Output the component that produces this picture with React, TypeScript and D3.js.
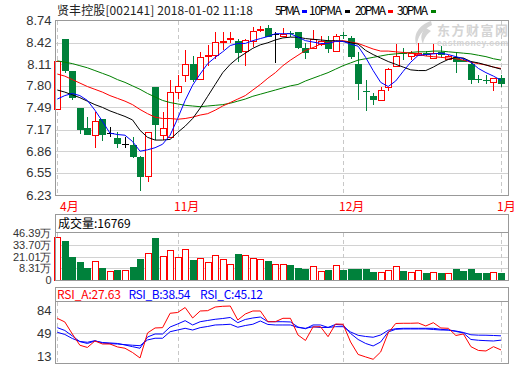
import React from 'react';
import * as d3 from 'd3';

// daily candles, 60 sessions
const opens = [7.46, 8.47, 8.01, 7.48, 7.19, 7.10, 7.32, 7.12, 7.05, 6.97, 6.95, 6.78, 6.50, 7.79, 7.10, 7.07, 7.71, 7.95, 8.12, 7.90,
  8.23, 8.25, 8.44, 8.48, 8.45, 8.30, 8.44, 8.60, 8.63, 8.55, 8.51, 8.56, 8.57, 8.35, 8.35, 8.40, 8.44, 8.30, 8.53, 8.49,
  8.12, 7.72, 7.65, 7.60, 7.78, 8.09, 8.27, 8.23, 8.24, 8.27, 8.20, 8.29, 8.18, 8.22, 8.17, 8.12, 7.90, 7.89, 7.86, 7.91];
const highs = [8.16, 8.47, 8.01, 7.48, 7.35, 7.43, 7.32, 7.21, 7.13, 7.07, 7.06, 6.79, 7.14, 7.79, 7.43, 7.89, 7.96, 8.31, 8.23, 8.28,
  8.39, 8.58, 8.58, 8.58, 8.47, 8.48, 8.64, 8.66, 8.67, 8.57, 8.63, 8.59, 8.58, 8.41, 8.60, 8.51, 8.51, 8.55, 8.57, 8.51,
  8.29, 7.88, 7.69, 7.79, 8.05, 8.40, 8.34, 8.30, 8.42, 8.30, 8.40, 8.38, 8.25, 8.29, 8.20, 8.15, 7.96, 7.95, 7.91, 7.95];
const lows = [7.46, 7.99, 7.60, 7.11, 7.10, 6.91, 7.00, 7.07, 6.90, 6.91, 6.76, 6.29, 6.41, 7.02, 7.02, 7.07, 7.61, 7.85, 7.86, 7.90,
  8.09, 8.19, 8.31, 8.41, 8.15, 8.08, 8.36, 8.58, 8.50, 8.13, 8.51, 8.50, 8.33, 8.19, 8.35, 8.38, 8.27, 8.30, 8.47, 8.18,
  7.60, 7.44, 7.53, 7.60, 7.73, 8.09, 8.17, 8.17, 8.24, 8.23, 8.20, 8.20, 8.18, 7.98, 8.14, 7.83, 7.84, 7.82, 7.72, 7.79];
const closes = [8.16, 8.01, 7.62, 7.17, 7.10, 7.30, 7.10, 7.12, 6.96, 6.97, 6.78, 6.49, 7.14, 7.23, 7.20, 7.71, 7.80, 8.11, 7.88, 8.22,
  8.25, 8.43, 8.45, 8.49, 8.27, 8.46, 8.59, 8.62, 8.50, 8.55, 8.55, 8.55, 8.35, 8.27, 8.47, 8.44, 8.33, 8.52, 8.51, 8.22,
  7.83, 7.71, 7.60, 7.74, 8.04, 8.23, 8.26, 8.27, 8.27, 8.24, 8.27, 8.24, 8.23, 8.15, 8.15, 7.88, 7.89, 7.88, 7.91, 7.83];
// volume, 万
const volumes = [41.2, 37.7, 21.9, 17.4, 11.6, 18.0, 11.6, 8.4, 9.7, 9.4, 12.6, 20.3, 25.8, 40.6, 22.9, 28.7, 21.9, 29.7, 19.3, 21.0,
  17.1, 23.9, 20.0, 15.2, 25.1, 23.9, 21.3, 20.0, 18.4, 15.5, 15.5, 14.5, 11.6, 10.6, 13.5, 8.7, 9.7, 14.5, 9.7, 10.6,
  10.6, 10.6, 7.7, 7.7, 9.7, 13.5, 8.7, 7.7, 9.4, 6.8, 7.7, 6.8, 6.8, 10.6, 8.7, 10.6, 6.8, 6.8, 7.7, 6.3];
const ma5 = [7.61, 7.66, 7.69, 7.66, 7.59, 7.45, 7.29, 7.12, 7.10, 7.09, 7.00, 6.86, 6.88, 6.91, 6.96, 7.09, 7.33, 7.59, 7.81, 7.97,
  8.12, 8.21, 8.29, 8.38, 8.41, 8.41, 8.45, 8.48, 8.51, 8.55, 8.55, 8.55, 8.50, 8.45, 8.43, 8.41, 8.41, 8.44, 8.44, 8.40,
  8.37, 8.21, 8.02, 7.85, 7.79, 7.87, 8.01, 8.14, 8.24, 8.25, 8.26, 8.27, 8.25, 8.22, 8.19, 8.14, 8.05, 7.99, 7.94, 7.88];
const ma10 = [7.74, 7.71, 7.67, 7.63, 7.58, 7.53, 7.49, 7.44, 7.40, 7.36, 7.31, 7.16, 7.06, 7.02, 7.02, 7.03, 7.13, 7.22, 7.33, 7.48,
  7.65, 7.82, 7.99, 8.11, 8.20, 8.27, 8.34, 8.39, 8.42, 8.46, 8.49, 8.50, 8.50, 8.48, 8.47, 8.46, 8.45, 8.45, 8.44, 8.42,
  8.40, 8.31, 8.25, 8.20, 8.15, 8.11, 8.07, 8.03, 8.02, 8.02, 8.07, 8.13, 8.18, 8.21, 8.20, 8.15, 8.13, 8.10, 8.07, 8.04];
const ma20 = [7.97, 7.94, 7.89, 7.84, 7.79, 7.75, 7.71, 7.66, 7.62, 7.58, 7.53, 7.46, 7.40, 7.35, 7.33, 7.33, 7.32, 7.33, 7.35, 7.38,
  7.40, 7.45, 7.51, 7.56, 7.61, 7.66, 7.74, 7.82, 7.91, 7.99, 8.09, 8.17, 8.24, 8.31, 8.35, 8.40, 8.42, 8.44, 8.45, 8.43,
  8.41, 8.37, 8.33, 8.30, 8.30, 8.29, 8.28, 8.27, 8.25, 8.23, 8.22, 8.21, 8.20, 8.19, 8.17, 8.14, 8.12, 8.10, 8.07, 8.05];
const ma30 = [8.16, 8.14, 8.12, 8.09, 8.06, 8.02, 7.98, 7.94, 7.89, 7.85, 7.80, 7.75, 7.69, 7.64, 7.59, 7.56, 7.54, 7.52, 7.51, 7.50,
  7.51, 7.52, 7.53, 7.55, 7.58, 7.61, 7.65, 7.68, 7.71, 7.74, 7.77, 7.80, 7.82, 7.87, 7.91, 7.95, 7.99, 8.04, 8.09, 8.13,
  8.17, 8.19, 8.21, 8.23, 8.25, 8.26, 8.27, 8.28, 8.29, 8.29, 8.30, 8.30, 8.29, 8.28, 8.27, 8.26, 8.24, 8.22, 8.19, 8.17];
const rsiA = [71.9, 66.3, 47.9, 30.7, 27.3, 37.2, 32.6, 32.6, 28.1, 26.1, 19.6, 11.2, 49.5, 57.1, 57.6, 79.6, 80.8, 88.4, 72.4, 83.1,
  83.6, 89.2, 90.3, 90.7, 69.3, 78.5, 83.1, 83.1, 66.7, 66.7, 71.9, 71.9, 46.4, 38.0, 58.6, 59.1, 43.8, 63.2, 62.8, 35.7,
  16.6, 12.8, 9.2, 20.4, 49.5, 64.0, 64.3, 64.3, 64.7, 60.2, 65.2, 57.1, 56.6, 45.6, 47.9, 28.5, 22.7, 21.9, 28.5, 23.5];
const rsiB = [57.6, 53.3, 44.9, 36.2, 33.4, 37.2, 34.9, 34.2, 33.4, 31.1, 28.5, 26.1, 43.3, 47.9, 47.9, 58.6, 63.2, 68.3, 61.7, 66.7,
  68.6, 70.4, 71.6, 73.2, 65.2, 70.1, 72.4, 73.9, 66.7, 66.7, 66.7, 66.3, 58.6, 55.9, 61.7, 61.7, 57.9, 62.5, 61.7, 48.7,
  39.5, 33.4, 29.6, 35.7, 51.0, 55.1, 55.6, 55.6, 55.6, 55.6, 54.8, 54.0, 54.0, 51.8, 49.5, 39.5, 38.3, 37.7, 37.2, 38.5];
const rsiC = [50.5, 47.2, 41.0, 36.5, 35.2, 37.7, 34.2, 33.1, 32.6, 31.6, 30.7, 30.0, 38.8, 41.4, 41.4, 51.4, 54.0, 56.6, 54.0, 57.6,
  59.4, 61.7, 62.1, 62.8, 58.2, 60.9, 62.8, 67.8, 62.5, 61.7, 61.7, 61.7, 57.9, 56.6, 58.9, 57.9, 57.9, 59.1, 59.1, 51.0,
  45.9, 44.1, 42.9, 46.4, 53.6, 56.0, 56.6, 56.6, 56.6, 56.6, 56.6, 55.1, 54.0, 52.5, 50.2, 46.7, 46.1, 46.0, 45.6, 45.1];

const priceTicks = [8.74, 8.42, 8.11, 7.80, 7.49, 7.17, 6.86, 6.55, 6.23];
const volTicks = ['0', '8.31万', '21.01万', '33.70万', '46.39万'];
const rsiTicks = [84, 49, 13];
const months = ['4月', '11月', '12月', '1月'];
const monthIdx = [0, 16, 38, 59];

const L = 55, R = 508.5;
const mainTop = 20.5, mainBot = 195.5;
const volTop = 214.5, volHead = 232.5, volBot = 280.5;
const rsiTop = 287.5, rsiHead = 301.5, rsiBot = 363.5;

const UP = '#ff0000';
const DOWN = '#00813b';
const GRID = '#d2d2d2';
const FRAME = '#999999';
const DASH = '#c8c8c8';
const CJK = '"Noto Sans CJK SC", sans-serif';
const NUM = '"Liberation Sans", Arial, sans-serif';

export default function App() {
  const x = d3.scaleLinear().domain([0, closes.length - 1]).range([57.3, 501]);
  const y = d3.scaleLinear().domain([6.23, 8.74]).range([195, 20.5]);
  const yv = d3.scaleLinear().domain([0, 46.39]).range([280, 232]);
  const yvTick = d3.scalePoint<string>().domain(volTicks).range([280, 233.2]);
  const yr = d3.scaleLinear().domain([13, 84]).range([356.8, 310.4]);

  const line = (vals: number[], sc: d3.ScaleLinear<number, number>) =>
    d3.line<number>().x((_, i) => x(i)).y(d => sc(d))(vals) || '';

  const dir = (i: number) => (closes[i] > opens[i] ? 1 : closes[i] < opens[i] ? -1 : 0);
  const cxs = closes.map((_, i) => Math.round(x(i)));

  const candles = closes.map((c, i) => {
    const cx = cxs[i];
    const d = dir(i);
    const wx = cx + 0.5;
    if (d > 0) {
      const top = Math.round(y(c)) + 0.5;
      const bot = Math.max(Math.round(y(opens[i])) + 0.5, top + 1);
      return (
        <g key={i} stroke={UP}>
          <line x1={wx} x2={wx} y1={y(highs[i])} y2={top} />
          <line x1={wx} x2={wx} y1={bot} y2={y(lows[i])} />
          <rect x={cx - 2.5} y={top} width={6} height={bot - top} fill="#fff" />
        </g>
      );
    }
    if (d < 0) {
      const top = Math.round(y(opens[i]));
      const h = Math.max(Math.round(y(c)) - top, 1);
      return (
        <g key={i}>
          <line x1={wx} x2={wx} y1={y(highs[i])} y2={y(lows[i])} stroke={DOWN} />
          <rect x={cx - 3} y={top} width={7} height={h} fill={DOWN} />
        </g>
      );
    }
    const yy = Math.round(y(c)) + 0.5;
    return (
      <g key={i} stroke="#000">
        <line x1={wx} x2={wx} y1={y(highs[i])} y2={y(lows[i])} />
        <line x1={cx - 3} x2={cx + 4} y1={yy} y2={yy} />
      </g>
    );
  });

  const volBars = volumes.map((v, i) => {
    const cx = cxs[i];
    const top = Math.round(yv(v));
    if (dir(i) < 0) {
      return <rect key={i} x={cx - 3} y={top} width={7} height={280 - top} fill={DOWN} />;
    }
    return (
      <rect key={i} x={cx - 2.5} y={top + 0.5} width={6} height={280 - top - 0.5}
        fill="#fff" stroke={UP} />
    );
  });

  const vLines = (y1: number, y2: number, k: string) =>
    monthIdx.map((m, j) => (
      <line key={k + j} x1={cxs[m] + 0.5} x2={cxs[m] + 0.5} y1={y1} y2={y2}
        stroke={DASH} strokeDasharray="4,3" />
    ));

  const legend = [
    { t: '5PMA', x: 275, w: 25, c: '#0000ff', mx: 302 },
    { t: '10PMA', x: 309, w: 33, c: '#000000', mx: 345 },
    { t: '20PMA', x: 355, w: 31, c: '#ff0000', mx: 388 },
    { t: '30PMA', x: 397, w: 31, c: '#008000', mx: 431 },
  ];

  return (
    <svg width={520} height={365} style={{ position: 'absolute', left: 0, top: 0, background: '#fff' }}>
      <rect x={0} y={0} width={520} height={365} fill="#fff" />

      {/* title + legend */}
      <text x={57} y={14.5} fontFamily={CJK} fontSize={12} fill="#222" textLength={196}>
        贤丰控股[002141] 2018-01-02 11:18
      </text>
      {legend.map(l => (
        <g key={l.t}>
          <text x={l.x} y={14.5} fontFamily={CJK} fontSize={12} fill="#000" textLength={l.w}>{l.t}</text>
          <rect x={l.mx} y={10} width={5} height={3} fill={l.c} />
        </g>
      ))}

      {/* watermark */}
      <g fill="#d4d4d4">
        <path d="M431 21 C419 25 412 35 417 46 C417 37 422 30 432 25 Z" />
        <path d="M426 28 C421 32 420 38 423 44 C424 38 427 34 431 31 Z" />
        <text x={437} y={35} fontFamily={CJK} fontSize={13} fontWeight="bold" textLength={71}>东方财富网</text>
        <text x={437} y={45.5} fontFamily={NUM} fontSize={8.5} fontWeight="bold" textLength={71}>eastmoney.com</text>
      </g>

      {/* main grid */}
      <g shapeRendering="crispEdges">
        {priceTicks.slice(1, -1).map(t => (
          <line key={t} x1={L} x2={R} y1={Math.round(y(t)) + 0.5} y2={Math.round(y(t)) + 0.5} stroke={GRID} />
        ))}
        {vLines(mainTop, mainBot, 'm')}
      </g>
      {priceTicks.map(t => (
        <text key={t} x={51.5} y={y(t) + 4.5} textAnchor="end" fontFamily={NUM} fontSize={13} fill="#333">
          {t.toFixed(2)}
        </text>
      ))}

      <g shapeRendering="crispEdges">{candles}</g>
      <g fill="none" strokeWidth={1}>
        <path d={line(ma30, y)} stroke="#008000" />
        <path d={line(ma20, y)} stroke="#ff0000" />
        <path d={line(ma10, y)} stroke="#000000" />
        <path d={line(ma5, y)} stroke="#0000ff" />
      </g>
      <rect x={L} y={mainTop} width={R - L} height={mainBot - mainTop} fill="none" stroke={FRAME} shapeRendering="crispEdges" />

      {months.map((m, j) => (
        <text key={m} x={Math.max(cxs[monthIdx[j]] - 4, 60)} y={211} fontFamily={CJK} fontSize={12} fill="#ff0000">{m}</text>
      ))}

      {/* volume panel */}
      <g shapeRendering="crispEdges">
        {volTicks.slice(1, -1).map(t => (
          <line key={t} x1={L} x2={R} y1={Math.round(yvTick(t) as number) + 0.5} y2={Math.round(yvTick(t) as number) + 0.5} stroke={GRID} />
        ))}
        {vLines(volHead, volBot, 'v')}
        {volBars}
        <rect x={L} y={volTop} width={R - L} height={volBot - volTop} fill="none" stroke={FRAME} />
        <line x1={L} x2={R} y1={volHead} y2={volHead} stroke={FRAME} />
      </g>
      <text x={58} y={228} fontFamily={CJK} fontSize={12} fill="#000">成交量:16769</text>
      {volTicks.map(t => (
        <text key={t} x={51.5} y={(yvTick(t) as number) + 4} textAnchor="end" fontFamily={NUM} fontSize={11} fill="#333">
          {t}
        </text>
      ))}

      {/* RSI panel */}
      <g shapeRendering="crispEdges">
        <line x1={L} x2={R} y1={Math.round(yr(49)) + 0.5} y2={Math.round(yr(49)) + 0.5} stroke={GRID} />
        {vLines(rsiHead, rsiBot, 'r')}
      </g>
      <g fill="none" strokeWidth={1}>
        <path d={line(rsiC, yr)} stroke="#0000ff" />
        <path d={line(rsiB, yr)} stroke="#0000ff" />
        <path d={line(rsiA, yr)} stroke="#ff0000" />
      </g>
      <g shapeRendering="crispEdges">
        <rect x={L} y={rsiTop} width={R - L} height={rsiBot - rsiTop} fill="none" stroke={FRAME} />
        <line x1={L} x2={R} y1={rsiHead} y2={rsiHead} stroke={FRAME} />
      </g>
      <text y={298.5} fontFamily={CJK} fontSize={12}>
        <tspan x={57} fill="#ff0000" textLength={64}>RSI_A:27.63</tspan>
        <tspan x={128.5} fill="#0000ff" textLength={62}>RSI_B:38.54</tspan>
        <tspan x={200} fill="#0000ff" textLength={63}>RSI_C:45.12</tspan>
      </text>
      {rsiTicks.map(t => (
        <text key={t} x={51.5} y={yr(t) + 4.5} textAnchor="end" fontFamily={NUM} fontSize={13} fill="#333">{t}</text>
      ))}
    </svg>
  );
}
